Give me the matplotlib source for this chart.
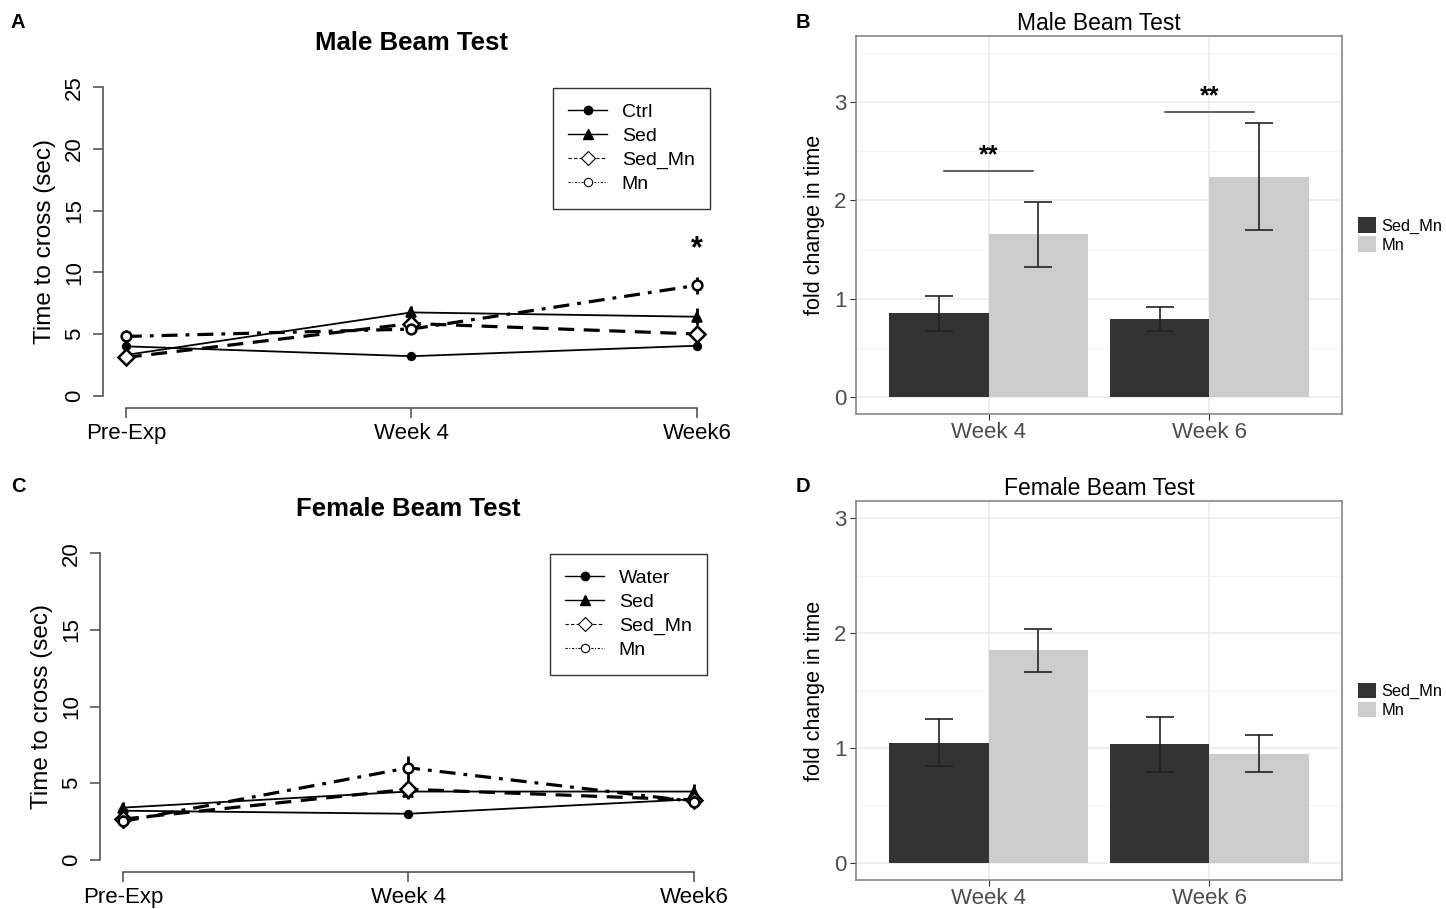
import matplotlib
matplotlib.use("Agg")
from matplotlib import pyplot as plt
from matplotlib.lines import Line2D
from matplotlib.patches import Patch
import numpy as np

plt.rcParams['font.family'] = ['Liberation Sans', 'DejaVu Sans']

# ---- data: line panels (A, C) ----
timepoints = ['Pre-Exp', 'Week 4', 'Week6']

male_groups = ['Ctrl', 'Sed', 'Sed_Mn', 'Mn']
male_mean = {
    'Ctrl':   [4.0, 3.2, 4.05],
    'Sed':    [3.3, 6.75, 6.4],
    'Sed_Mn': [3.1, 5.85, 5.0],
    'Mn':     [4.8, 5.4, 8.95],
}
male_err = {
    'Ctrl':   [0.3, 0.2, 0.3],
    'Sed':    [0.3, 0.5, 0.7],
    'Sed_Mn': [0.4, 0.5, 0.4],
    'Mn':     [0.5, 0.4, 0.7],
}

female_groups = ['Water', 'Sed', 'Sed_Mn', 'Mn']
female_mean = {
    'Water':  [3.2, 3.0, 3.95],
    'Sed':    [3.4, 4.45, 4.45],
    'Sed_Mn': [2.65, 4.6, 3.9],
    'Mn':     [2.5, 6.0, 3.8],
}
female_err = {
    'Water':  [0.2, 0.2, 0.3],
    'Sed':    [0.4, 0.5, 0.5],
    'Sed_Mn': [0.4, 0.6, 0.5],
    'Mn':     [0.4, 0.8, 0.4],
}

# ---- data: bar panels (B, D) ----
weeks = ['Week 4', 'Week 6']
bar_groups = ['Sed_Mn', 'Mn']
male_fold = {'Sed_Mn': [0.85, 0.79], 'Mn': [1.655, 2.24]}
male_fold_err = {'Sed_Mn': [0.18, 0.12], 'Mn': [0.33, 0.545]}
female_fold = {'Sed_Mn': [1.045, 1.03], 'Mn': [1.85, 0.95]}
female_fold_err = {'Sed_Mn': [0.205, 0.24], 'Mn': [0.185, 0.16]}

# significance marks for male bars: (week index, bracket height)
male_sig = [(0, 2.3, '**'), (1, 2.9, '**')]

# ---- styles ----
line_style = {
    0: dict(ls='-', lw=1.3, marker='o', ms=5.5, mfc='black', mew=1.2),
    1: dict(ls='-', lw=1.3, marker='^', ms=7, mfc='black', mew=1.2),
    2: dict(ls=(0, (5, 3)), lw=2.3, marker='D', ms=8, mfc='white', mew=1.8),
    3: dict(ls=(0, (5, 2.5, 1.2, 2.5)), lw=2.3, marker='o', ms=7, mfc='white', mew=1.8),
}
legend_style = {
    0: dict(ls='-', lw=1, marker='o', ms=6, mfc='black'),
    1: dict(ls='-', lw=1, marker='^', ms=7, mfc='black'),
    2: dict(ls=(0, (3, 2)), lw=0.8, marker='D', ms=7, mfc='white', mew=0.8),
    3: dict(ls=(0, (2, 1.5, 0.8, 1.5)), lw=0.8, marker='o', ms=6, mfc='white', mew=0.8),
}

W, H = 1446, 909
fig = plt.figure(figsize=(W / 100, H / 100), dpi=100)


def px_axes(left, top, right, bottom):
    return fig.add_axes([left / W, 1 - bottom / H, (right - left) / W, (bottom - top) / H])


def line_panel(ax, groups, means, errs, ymax, title):
    x = np.arange(1, len(timepoints) + 1)
    for i, g in enumerate(groups):
        st = line_style[i]
        ax.errorbar(x, means[g], yerr=errs[g], color='black', ecolor='black',
                    elinewidth=2, capsize=0, mec='black', zorder=3 + i, **st)
    pad = 0.04 * ymax
    ax.set_xticks(x)
    ax.set_xticklabels(timepoints, fontsize=16)
    ax.set_yticks(np.arange(0, ymax + 1, 5))
    ax.set_yticklabels([str(v) for v in range(0, ymax + 1, 5)], fontsize=16,
                       rotation=90, va='center')
    ax.set_xlim(1 - 0.08, 3 + 0.08)
    ax.set_ylim(-pad, ymax + pad)
    for s in ['top', 'right']:
        ax.spines[s].set_visible(False)
    ax.spines['left'].set_bounds(0, ymax)
    ax.spines['bottom'].set_bounds(1, 3)
    for s in ['left', 'bottom']:
        ax.spines[s].set_color('#555555')
        ax.spines[s].set_linewidth(1.2)
    ax.tick_params(length=7, width=1.2, color='#555555', pad=6)
    ax.tick_params(axis='x', pad=4)
    ax.set_ylabel('Time to cross (sec)', fontsize=17.5, labelpad=6)
    ax.set_title(title, fontsize=18.5, fontweight='bold', pad=18)
    handles = [Line2D([0], [0], color='black', mec='black', **legend_style[i])
               for i in range(len(groups))]
    leg = ax.legend(handles, groups, loc='upper left', bbox_to_anchor=(0.729, 0.962),
                    fontsize=14, frameon=True, fancybox=False, handlelength=2.0,
                    labelspacing=0.33, borderpad=0.8, handletextpad=0.75,
                    borderaxespad=0)
    leg.get_frame().set_edgecolor('black')
    leg.get_frame().set_linewidth(1)


def bar_panel(ax, fold, ferr, ymin, ymax, title):
    x = np.arange(1, len(weeks) + 1)
    width = 0.45
    colors = {'Sed_Mn': '#333333', 'Mn': '#CCCCCC'}
    offsets = {'Sed_Mn': -width / 2, 'Mn': width / 2}
    for g in bar_groups:
        ax.bar(x + offsets[g], fold[g], width=width, color=colors[g], zorder=2)
        ax.errorbar(x + offsets[g], fold[g], yerr=ferr[g], fmt='none', ecolor='#222222',
                    elinewidth=1.2, capsize=10, capthick=1.2, zorder=3)
    ax.set_xticks(x)
    ax.set_xticklabels(weeks, fontsize=16, color='#4D4D4D')
    ax.set_yticks([0, 1, 2, 3])
    ax.set_yticklabels(['0', '1', '2', '3'], fontsize=16, color='#4D4D4D')
    ax.set_yticks(np.arange(0.5, ymax, 1.0), minor=True)
    ax.set_xlim(0.4, 2.6)
    ax.set_ylim(ymin, ymax)
    ax.tick_params(which='major', length=4, width=0.8, color='#333333', pad=3)
    ax.tick_params(axis='x', pad=2)
    ax.tick_params(which='minor', length=0)
    ax.grid(which='major', color='#EBEBEB', lw=1.1, zorder=0)
    ax.grid(which='minor', axis='y', color='#F2F2F2', lw=0.6, zorder=0)
    ax.set_axisbelow(True)
    for s in ax.spines.values():
        s.set_color('#7F7F7F')
        s.set_linewidth(1.1)
    ax.set_ylabel('fold change in time', fontsize=15.5, labelpad=6)
    ax.set_title(title, fontsize=16.5, pad=4)
    handles = [Patch(facecolor=colors[g], edgecolor='none') for g in bar_groups]
    ax.legend(handles, bar_groups, loc='center left', bbox_to_anchor=(1.02, 0.474),
              fontsize=11.8, frameon=False, handlelength=1.1, handleheight=1.1,
              labelspacing=0.15, handletextpad=0.3, borderaxespad=0)


axA = px_axes(103, 75, 720, 408)
line_panel(axA, male_groups, male_mean, male_err, 25, 'Male Beam Test')
axA.text(3, 11.9, '*', ha='center', va='center', fontsize=22, fontweight='bold')

axC = px_axes(100, 541, 717, 872)
line_panel(axC, female_groups, female_mean, female_err, 20, 'Female Beam Test')

axB = px_axes(856, 36, 1342, 414)
bar_panel(axB, male_fold, male_fold_err, -0.175, 3.675, 'Male Beam Test')
for wi, yb, lab in male_sig:
    xc = wi + 1
    axB.plot([xc - 0.2, xc + 0.2], [yb, yb], color='#333333', lw=1.1, zorder=4)
    axB.text(xc, yb + 0.04, lab, ha='center', va='bottom', fontsize=18, fontweight='bold')

axD = px_axes(856, 501, 1342, 880)
bar_panel(axD, female_fold, female_fold_err, -0.15, 3.15, 'Female Beam Test')

for lab, (px, py) in {'A': (18, 22), 'B': (803, 22), 'C': (18, 487), 'D': (803, 486)}.items():
    fig.text(px / W, 1 - py / H, lab, fontsize=14.5, fontweight='bold', ha='center', va='center')

fig.savefig('out.png', dpi=100)
